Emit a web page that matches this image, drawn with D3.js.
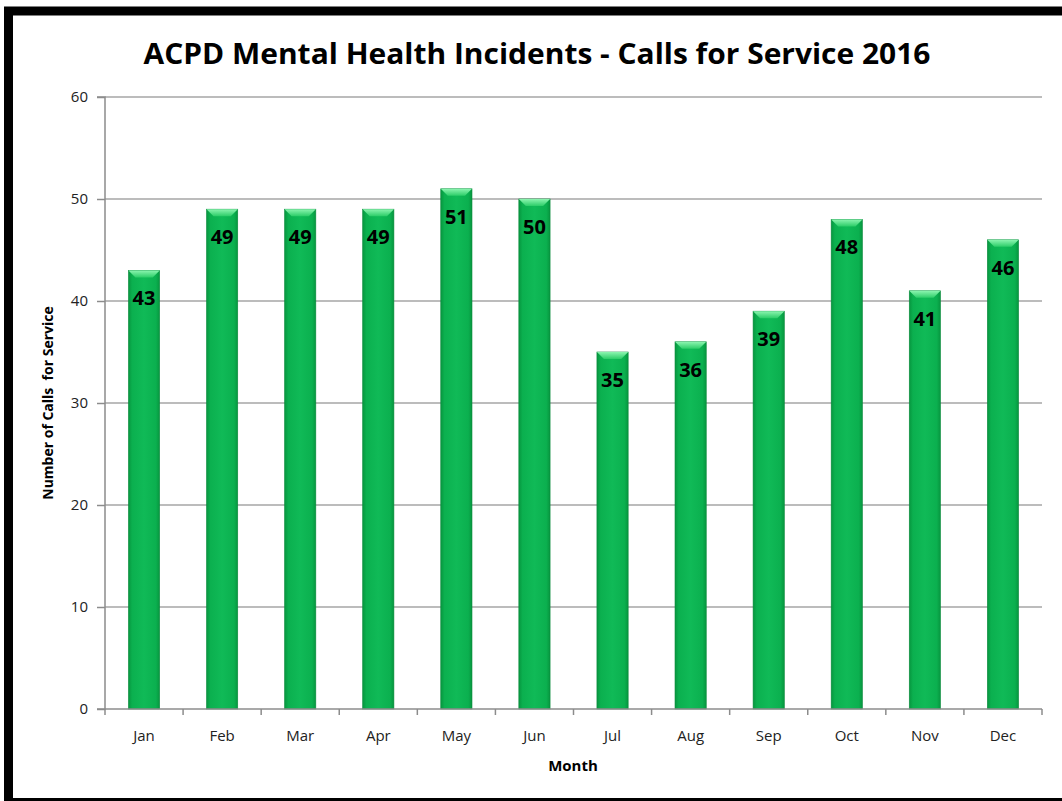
<!DOCTYPE html>
<html><head><meta charset="utf-8">
<script src="https://cdn.jsdelivr.net/npm/d3@7"></script>
<style>body{margin:0;background:#fff}svg{display:block}</style>
</head><body>
<svg id="c" width="1062" height="801"></svg>
<script>
const months = ["Jan","Feb","Mar","Apr","May","Jun","Jul","Aug","Sep","Oct","Nov","Dec"];
const calls = [43,49,49,49,51,50,35,36,39,48,41,46];
const yTicks = [0,10,20,30,40,50,60];
const title = "ACPD Mental Health Incidents - Calls for Service 2016";
const yTitle = "Number of Calls  for Service";
const xTitle = "Month";

const svg = d3.select("#c");
const font = "'Open Sans', 'Liberation Sans', sans-serif";
// frame
svg.append("rect").attr("x",0).attr("y",0).attr("width",1062).attr("height",801).attr("fill","#fff");
svg.append("rect").attr("x",8.5).attr("y",11).attr("width",1080).attr("height",791.5)
  .attr("fill","none").attr("stroke","#000").attr("stroke-width",9);

const L=105, R=1042, T=97, B=709;
const x = d3.scaleBand().domain(months).range([L,R]).paddingInner(0.6).paddingOuter(0.3);
const y = d3.scaleLinear().domain([0,60]).range([B,T]);

const defs = svg.append("defs");
const g1 = defs.append("linearGradient").attr("id","bar").attr("x1","0").attr("x2","1").attr("y1","0").attr("y2","0");
[["0%","#07963f"],["12%","#0bb04f"],["50%","#10ba57"],["88%","#0bb04f"],["100%","#07963f"]]
  .forEach(s=>g1.append("stop").attr("offset",s[0]).attr("stop-color",s[1]));
const g2 = defs.append("linearGradient").attr("id","bev").attr("x1","0").attr("x2","0").attr("y1","0").attr("y2","1");
[["0%","#8cf5b0"],["100%","#2ccd68"]].forEach(s=>g2.append("stop").attr("offset",s[0]).attr("stop-color",s[1]));

// gridlines
svg.append("g").selectAll("line").data(yTicks.filter(d=>d>0)).join("line")
  .attr("x1",L).attr("x2",R).attr("y1",d=>y(d)).attr("y2",d=>y(d))
  .attr("stroke","#a6a6a6").attr("stroke-width",1.5);

// y axis
const ya = svg.append("g").attr("transform",`translate(${L},0)`)
  .call(d3.axisLeft(y).tickValues(yTicks).tickSize(8).tickPadding(9));
ya.select(".domain").attr("stroke","#8c8c8c").attr("stroke-width",1.5).attr("d",`M-8,${T}H0V${B}H-8`);
ya.selectAll(".tick line").attr("stroke","#8c8c8c").attr("stroke-width",1.5);
ya.selectAll(".tick text").attr("font-family",font).attr("font-size",15).attr("fill","#222");

// bars
const bars = svg.append("g").selectAll("g").data(months).join("g");
bars.append("rect").attr("x",d=>x(d)).attr("width",x.bandwidth())
  .attr("y",(d,i)=>y(calls[i])).attr("height",(d,i)=>B-y(calls[i]))
  .attr("fill","url(#bar)").attr("stroke","#0a8a3c").attr("stroke-width",0.6);
bars.append("path").attr("d",(d,i)=>{
  const x0=x(d), x1=x0+x.bandwidth(), t=y(calls[i]), b=7;
  return `M${x0},${t}H${x1}L${x1-b},${t+b}H${x0+b}Z`;
}).attr("fill","url(#bev)");
bars.append("text").attr("x",d=>x(d)+x.bandwidth()/2).attr("y",(d,i)=>y(calls[i])+35)
  .attr("text-anchor","middle").attr("font-family",font).attr("font-weight","bold")
  .attr("font-size",20).attr("fill","#000").text((d,i)=>calls[i]);

// x axis
const xa = svg.append("g").attr("transform",`translate(0,${B})`);
xa.append("line").attr("x1",L).attr("x2",R).attr("stroke","#8c8c8c").attr("stroke-width",1.5);
xa.selectAll(".tk").data(d3.range(13)).join("line").attr("class","tk")
  .attr("x1",i=>L+i*(R-L)/12).attr("x2",i=>L+i*(R-L)/12).attr("y1",0).attr("y2",6)
  .attr("stroke","#8c8c8c").attr("stroke-width",1.5);
xa.selectAll("text").data(months).join("text")
  .attr("x",d=>x(d)+x.bandwidth()/2).attr("y",32).attr("text-anchor","middle")
  .attr("font-family",font).attr("font-size",15).attr("fill","#222").text(d=>d);

// titles
svg.append("text").attr("x",537).attr("y",64).attr("text-anchor","middle")
  .attr("font-family",font).attr("font-weight","bold").attr("font-size",28).attr("fill","#000")
  .attr("textLength",787).attr("lengthAdjust","spacingAndGlyphs").text(title);
svg.append("text").attr("transform","translate(53,403) rotate(-90)").attr("text-anchor","middle")
  .attr("font-family",font).attr("font-weight","bold").attr("font-size",14).attr("fill","#000")
  .attr("xml:space","preserve").text(yTitle);
svg.append("text").attr("x",573).attr("y",771).attr("text-anchor","middle")
  .attr("font-family",font).attr("font-weight","bold").attr("font-size",15).attr("fill","#000").text(xTitle);
</script>
</body></html>
